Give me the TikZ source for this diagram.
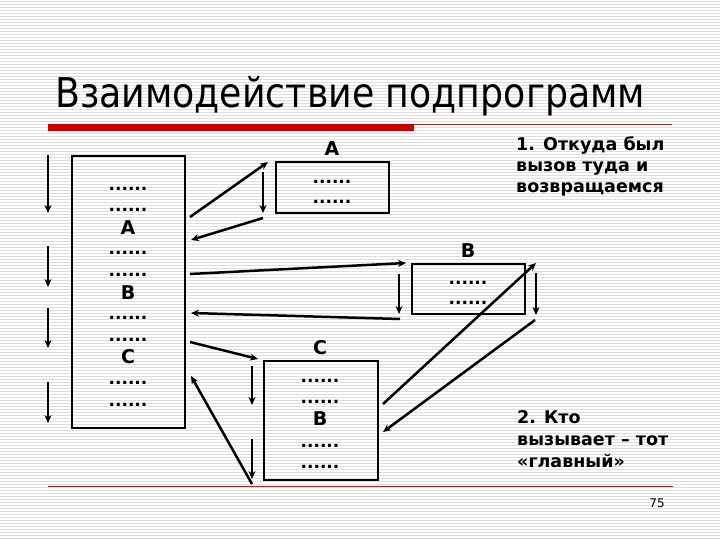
\documentclass[tikz,border=0pt]{standalone}
\usepackage{fontspec}
\setmainfont{DejaVu Sans}
\usetikzlibrary{arrows.meta}
\definecolor{barred}{RGB}{204,0,0}
\definecolor{linered}{RGB}{150,40,40}
\definecolor{stripe}{RGB}{222,222,222}
\begin{document}
\begin{tikzpicture}[x=1pt,y=-1pt,
  arr/.style={line width=2.5pt,-{Stealth[length=8pt,width=7pt]}},
  box/.style={draw,line width=2pt,inner sep=0pt,anchor=north west},
  dotline/.style={font=\bfseries\fontsize{17}{17}\selectfont,anchor=base,inner sep=0pt},
  lbl/.style={font=\bfseries\fontsize{19}{19}\selectfont,inner sep=0pt},
  note/.style={font=\bfseries\fontsize{17.5}{21}\selectfont,anchor=base west,inner sep=0pt}]
\useasboundingbox (0,0) rectangle (720,540);
\fill[white] (0,0) rectangle (720,540);
\foreach \y in {1.5,4.5,...,540} \draw[stripe,line width=1pt] (0,\y) -- (720,\y);
% title and rules
\node[anchor=base west,inner sep=0pt,font=\fontsize{41}{41}\selectfont,text=black] (title) at (55,108) {\resizebox{590pt}{\height}{Взаимодействие подпрограмм}};
\fill[barred] (48,124) rectangle (414,131);
\draw[linered,line width=1pt] (414,124.5) -- (672,124.5);
\draw[linered,line width=1pt] (48,486) -- (673,486);
\node[font=\fontsize{12}{12}\selectfont,inner sep=0pt] (pg) at (657,503) {75};
% left flow arrows
\coordinate (l1s) at (48,155); \coordinate (l1e) at (48,213);
\coordinate (l2s) at (48,246); \coordinate (l2e) at (48,287);
\coordinate (l3s) at (48,308); \coordinate (l3e) at (48,348);
\coordinate (l4s) at (48,382); \coordinate (l4e) at (48,423);
\draw[arr] (l1s) -- (l1e);
\draw[arr] (l2s) -- (l2e);
\draw[arr] (l3s) -- (l3e);
\draw[arr] (l4s) -- (l4e);
% main box
\node[box,minimum width=113pt,minimum height=272pt] (main) at (71,155) {};
\node[dotline] (m1) at (128,190.5) {......};
\node[dotline] (m2) at (128,211.5) {......};
\node[lbl] (mA) at (128,228) {A};
\node[dotline] (m3) at (128,254.5) {......};
\node[dotline] (m4) at (128,276.5) {......};
\node[lbl] (mB) at (128,293) {B};
\node[dotline] (m5) at (128,319.5) {......};
\node[dotline] (m6) at (128,341.5) {......};
\node[lbl] (mC) at (128,357) {C};
\node[dotline] (m7) at (128,384.5) {......};
\node[dotline] (m8) at (128,406.5) {......};
% box A
\node[box,minimum width=113pt,minimum height=51pt] (boxA) at (275,161) {};
\node[lbl] (labA) at (332,149) {A};
\node[dotline] (a1) at (332,183.5) {......};
\node[dotline] (a2) at (332,203.5) {......};
% box B
\node[box,minimum width=113pt,minimum height=50pt] (boxB) at (411,263) {};
\node[lbl] (labB) at (468,251) {B};
\node[dotline] (b1) at (468,284.5) {......};
\node[dotline] (b2) at (468,304.5) {......};
% box C
\node[box,minimum width=114pt,minimum height=119pt] (boxC) at (263,360) {};
\node[lbl] (labC) at (320,348) {C};
\node[dotline] (c1) at (320,382.5) {......};
\node[dotline] (c2) at (320,403.5) {......};
\node[lbl] (cB) at (320,419) {B};
\node[dotline] (c3) at (320,447.5) {......};
\node[dotline] (c4) at (320,468.5) {......};
% arrows to/from A
\coordinate (pA1) at (190,217); \coordinate (pA2) at (268,162);
\coordinate (pA3) at (263,172); \coordinate (pA4) at (263,213);
\coordinate (pA5) at (263,218); \coordinate (pA6) at (191,240);
\draw[arr] (pA1) -- (pA2);
\draw[arr] (pA3) -- (pA4);
\draw[arr] (pA5) -- (pA6);
% arrows to/from B
\coordinate (pB1) at (190,274); \coordinate (pB2) at (406,263);
\coordinate (pB3) at (399,274); \coordinate (pB4) at (399,314);
\coordinate (pB5) at (400,319); \coordinate (pB6) at (191,313);
\draw[arr] (pB1) -- (pB2);
\draw[arr] (pB3) -- (pB4);
\draw[arr] (pB5) -- (pB6);
% arrows to/from C
\coordinate (pC1) at (190,342); \coordinate (pC2) at (258,359);
\coordinate (pC3) at (252,366); \coordinate (pC4) at (252,405);
\coordinate (pC5) at (252,439); \coordinate (pC6) at (252,479);
\coordinate (pC7) at (252,484); \coordinate (pC8) at (191,376);
\draw[arr] (pC1) -- (pC2);
\draw[arr] (pC3) -- (pC4);
\draw[arr] (pC5) -- (pC6);
\draw[arr] (pC7) -- (pC8);
% arrows C -> B -> C
\coordinate (pD1) at (383,404); \coordinate (pD2) at (536,263);
\coordinate (pD3) at (536,273); \coordinate (pD4) at (536,315);
\coordinate (pD5) at (535,320); \coordinate (pD6) at (383,432);
\draw[arr] (pD1) -- (pD2);
\draw[arr] (pD3) -- (pD4);
\draw[arr] (pD5) -- (pD6);
% notes
\node[note] (n1a) at (516,151) {1. Откуда был};
\node[note] (n1b) at (516,172) {вызов туда и};
\node[note] (n1c) at (516,193) {возвращаемся};
\node[note] (n2a) at (517,423) {2. Кто};
\node[note] (n2b) at (517,445) {вызывает – тот};
\node[note] (n2c) at (517,467) {«главный»};
\end{tikzpicture}
\end{document}
